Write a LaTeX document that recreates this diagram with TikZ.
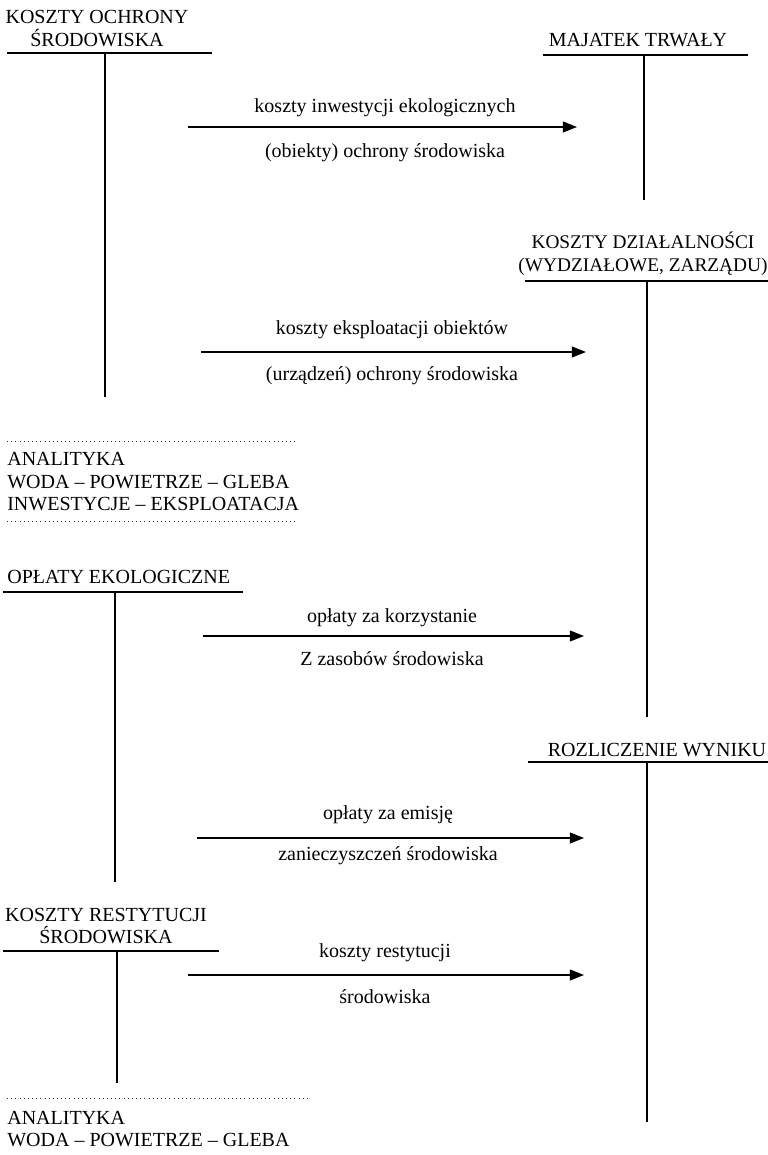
\documentclass[tikz,border=0pt]{standalone}
\usepackage{fontspec}
\setmainfont{Liberation Serif}
\usetikzlibrary{arrows.meta}

\tikzset{
  lbl/.style={black, inner sep=0pt, font=\fontsize{12}{13.5}\selectfont},
  acct/.style={black, line width=0.7pt},
  flow/.style={black, line width=0.9pt, -{Triangle[length=8.5pt,width=6.5pt]}},
  sep/.style={black!80, dotted, line width=0.5pt}
}

\begin{document}
\begin{tikzpicture}[x=0.6pt, y=-0.6pt]
\useasboundingbox (0,0) rectangle (768,1155);
% konto: koszty ochrony srodowiska
\node[lbl, align=center] (ochrona) at (97, 28.5){KOSZTY OCHRONY\\ŚRODOWISKA};
\coordinate (ochrona-l) at (7, 53);
\coordinate (ochrona-r) at (212, 53);
\coordinate (ochrona-t) at (105, 53);
\coordinate (ochrona-b) at (105, 397);
\draw[acct] (ochrona-l) -- (ochrona-r);
\draw[acct] (ochrona-t) -- (ochrona-b);
% konto: majatek trwaly
\node[lbl] (majatek) at (638, 40){MAJATEK TRWAŁY};
\coordinate (majatek-l) at (543, 55);
\coordinate (majatek-r) at (748, 55);
\coordinate (majatek-t) at (644, 55);
\coordinate (majatek-b) at (644, 200);
\draw[acct] (majatek-l) -- (majatek-r);
\draw[acct] (majatek-t) -- (majatek-b);
% przeplyw 1
\coordinate (inw-a) at (188, 127);
\coordinate (inw-b) at (577, 127);
\draw[flow] (inw-a) -- (inw-b);
\node[lbl] (inw-g) at (385, 108){koszty inwestycji ekologicznych};
\node[lbl] (inw-d) at (385, 153){(obiekty) ochrony środowiska};
% konto: koszty dzialalnosci
\node[lbl, align=center, font=\fontsize{11.6}{13.5}\selectfont] (dzial) at (643, 254){KOSZTY DZIAŁALNOŚCI\\(WYDZIAŁOWE, ZARZĄDU)};
\coordinate (dzial-l) at (525, 281);
\coordinate (dzial-r) at (768, 281);
\coordinate (dzial-t) at (647, 281);
\coordinate (dzial-b) at (647, 717);
\draw[acct] (dzial-l) -- (dzial-r);
\draw[acct] (dzial-t) -- (dzial-b);
% przeplyw 2
\coordinate (eks-a) at (201, 352);
\coordinate (eks-b) at (586, 352);
\draw[flow] (eks-a) -- (eks-b);
\node[lbl] (eks-g) at (392, 330){koszty eksploatacji obiektów};
\node[lbl] (eks-d) at (392, 376){(urządzeń) ochrony środowiska};
% analityka 1
\coordinate (an1-a) at (7, 441);
\coordinate (an1-b) at (297, 441);
\coordinate (an1-c) at (7, 521);
\coordinate (an1-d) at (297, 521);
\draw[sep] (an1-a) -- (an1-b);
\draw[sep] (an1-c) -- (an1-d);
\node[lbl, align=left, anchor=west] (anal1) at (7, 482){ANALITYKA\\WODA – POWIETRZE – GLEBA\\INWESTYCJE – EKSPLOATACJA};
% konto: oplaty ekologiczne
\node[lbl, anchor=west] (oplaty) at (7, 577){OPŁATY EKOLOGICZNE};
\coordinate (oplaty-l) at (3, 592);
\coordinate (oplaty-r) at (243, 592);
\coordinate (oplaty-t) at (115, 592);
\coordinate (oplaty-b) at (115, 882);
\draw[acct] (oplaty-l) -- (oplaty-r);
\draw[acct] (oplaty-t) -- (oplaty-b);
% przeplyw 3
\coordinate (kor-a) at (203, 636);
\coordinate (kor-b) at (584, 636);
\draw[flow] (kor-a) -- (kor-b);
\node[lbl] (kor-g) at (392, 618){opłaty za korzystanie};
\node[lbl] (kor-d) at (392, 659){Z zasobów środowiska};
% konto: rozliczenie wyniku
\node[lbl] (wynik) at (657, 750){ROZLICZENIE WYNIKU};
\coordinate (wynik-l) at (528, 762);
\coordinate (wynik-r) at (768, 762);
\coordinate (wynik-t) at (647, 762);
\coordinate (wynik-b) at (647, 1122);
\draw[acct] (wynik-l) -- (wynik-r);
\draw[acct] (wynik-t) -- (wynik-b);
% przeplyw 4
\coordinate (emi-a) at (197, 838);
\coordinate (emi-b) at (584, 838);
\draw[flow] (emi-a) -- (emi-b);
\node[lbl] (emi-g) at (388, 815){opłaty za emisję};
\node[lbl] (emi-d) at (388, 856){zanieczyszczeń środowiska};
% konto: koszty restytucji
\node[lbl, align=center] (restyt) at (106, 926){KOSZTY RESTYTUCJI\\ŚRODOWISKA};
\coordinate (restyt-l) at (3, 951);
\coordinate (restyt-r) at (219, 951);
\coordinate (restyt-t) at (117, 951);
\coordinate (restyt-b) at (117, 1083);
\draw[acct] (restyt-l) -- (restyt-r);
\draw[acct] (restyt-t) -- (restyt-b);
% przeplyw 5
\coordinate (res-a) at (188, 975);
\coordinate (res-b) at (584, 975);
\draw[flow] (res-a) -- (res-b);
\node[lbl] (res-g) at (385, 953){koszty restytucji};
\node[lbl] (res-d) at (385, 997){środowiska};
% analityka 2
\coordinate (an2-a) at (7, 1098);
\coordinate (an2-b) at (308, 1098);
\draw[sep] (an2-a) -- (an2-b);
\node[lbl, align=left, anchor=west] (anal2) at (7, 1129){ANALITYKA\\WODA – POWIETRZE – GLEBA};
\end{tikzpicture}
\end{document}
